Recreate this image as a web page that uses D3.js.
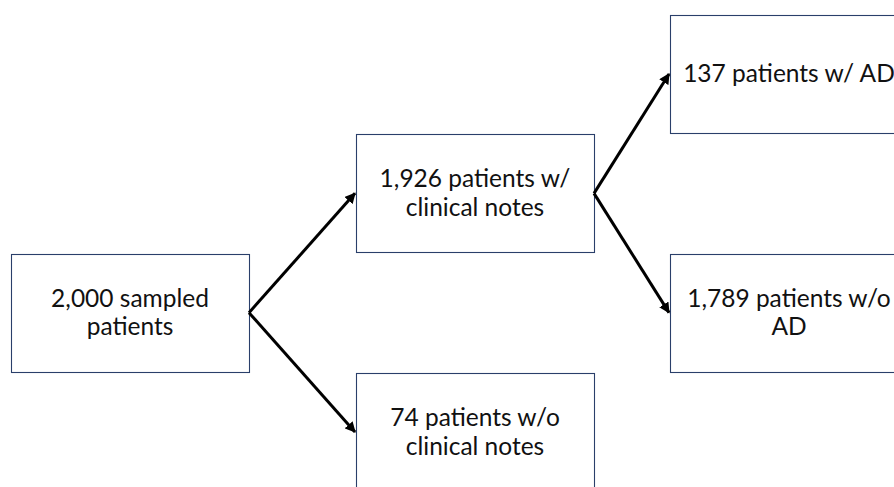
<!DOCTYPE html>
<html>
<head>
<meta charset="utf-8">
<script src="https://cdn.jsdelivr.net/npm/d3@7"></script>
<style>
    body { margin: 0; background: #fff; }
    svg { display: block; }
    text { font-family: Lato, "Open Sans", sans-serif; fill: #111; }
</style>
</head>
<body>
<svg width="894" height="487"></svg>
<script>
// patient counts at each step of the flow
const counts = [2000, 1926, 74, 137, 1789];

// text that follows each count, one entry per line
const captions = [
    [' sampled', 'patients'],
    [' patients w/', 'clinical notes'],
    [' patients w/o', 'clinical notes'],
    [' patients w/ AD'],
    [' patients w/o', 'AD']
];

// where each box sits: stage (column) and level (row)
const stages = [0, 1, 1, 2, 2];
const levels = [2, 1, 3, 0, 2];

// which box each arrow comes from
const parents = [null, 0, 0, 1, 1];

const fmt = d3.format(',');
const boxW = 238, boxH = 118;

const svg = d3.select('svg');

// box left edges per stage
const x = d3.scaleOrdinal()
    .domain([0, 1, 2])
    .range([11, 356, 670]);

// box centre per level
const y = d3.scaleLinear()
    .domain([0, 3])
    .range([74, 432]);

const nodes = counts.map(function (c, i) {
    return {
        lines: [fmt(c) + captions[i][0]].concat(captions[i].slice(1)),
        x0: x(stages[i]),
        cy: y(levels[i]),
        parent: parents[i]
    };
});

// arrow head
svg.append('defs').append('marker')
    .attr('id', 'head')
    .attr('viewBox', '0 0 10 10')
    .attr('refX', 9)
    .attr('refY', 5)
    .attr('markerWidth', 3.6)
    .attr('markerHeight', 3.6)
    .attr('markerUnits', 'strokeWidth')
    .attr('orient', 'auto')
    .append('path')
    .attr('d', 'M0,0 L10,5 L0,10 z')
    .attr('fill', '#000');

// boxes
svg.selectAll('rect.box')
    .data(nodes)
    .enter().append('rect')
    .attr('class', 'box')
    .attr('x', function (d) { return d.x0 + 0.5; })
    .attr('y', function (d) { return Math.round(d.cy - boxH / 2) + 0.5; })
    .attr('width', boxW)
    .attr('height', boxH)
    .attr('fill', '#fff')
    .attr('stroke', '#2a3f6a')
    .attr('stroke-width', 1.1);

// arrows from right-middle of parent to left-middle of child
svg.selectAll('line.arrow')
    .data(nodes.filter(function (d) { return d.parent !== null; }))
    .enter().append('line')
    .attr('class', 'arrow')
    .attr('x1', function (d) { return nodes[d.parent].x0 + boxW; })
    .attr('y1', function (d) { return nodes[d.parent].cy; })
    .attr('x2', function (d) { return d.x0 - 1; })
    .attr('y2', function (d) { return d.cy; })
    .attr('stroke', '#000')
    .attr('stroke-width', 3)
    .attr('marker-end', 'url(#head)');

// labels
const label = svg.selectAll('text.label')
    .data(nodes)
    .enter().append('text')
    .attr('class', 'label')
    .attr('text-anchor', 'middle')
    .style('font-size', '24.5px');

label.selectAll('tspan')
    .data(function (d) {
        return d.lines.map(function (l, i) {
            const n = d.lines.length;
            const base = n === 1 ? d.cy + 8 : d.cy - 6 + i * 28.5;
            return { text: l, x: d.x0 + boxW / 2, y: base };
        });
    })
    .enter().append('tspan')
    .attr('x', function (d) { return d.x; })
    .attr('y', function (d) { return d.y; })
    .text(function (d) { return d.text; });
</script>
</body>
</html>
